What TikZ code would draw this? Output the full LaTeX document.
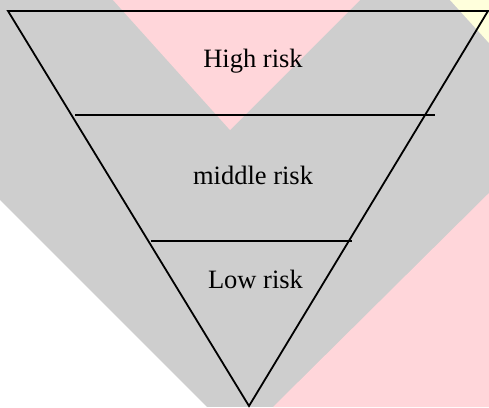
\documentclass[tikz,border=0pt]{standalone}
\usepackage{fontspec}
\setmainfont{Liberation Serif}
\definecolor{bggray}{RGB}{206,206,206}
\definecolor{bgpink}{RGB}{255,214,218}
\definecolor{bgyellow}{RGB}{255,255,220}
\begin{document}
\begin{tikzpicture}[x=1pt,y=-1pt,
  edge/.style={draw=black,line width=1.8pt,line join=miter},
  label/.style={font=\fontsize{26.5}{30}\selectfont,anchor=base,inner sep=0pt}]
  % background watermark
  \useasboundingbox (0,0) rectangle (489,407);
  \fill[bggray] (0,0) rectangle (489,407);
  \fill[white] (0,200) -- (207,407) -- (0,407) -- cycle;
  \fill[bgpink] (489,193) -- (273,407) -- (489,407) -- cycle;
  \fill[bgpink] (113,0) -- (360,0) -- (230,130) -- cycle;
  \fill[bgyellow] (450,0) -- (489,0) -- (489,43) -- cycle;
  % triangle
  \coordinate (tl) at (8,11);
  \coordinate (tr) at (488,11);
  \coordinate (bt) at (249,406);
  \coordinate (a1) at (75,115);
  \coordinate (a2) at (435,115);
  \coordinate (b1) at (151,241);
  \coordinate (b2) at (352,241);
  \draw[edge] (tl) -- (tr) -- (bt) -- cycle;
  \draw[edge] (a1) -- (a2);
  \draw[edge] (b1) -- (b2);
  \node[label] (high) at (253,67) {High risk};
  \node[label] (mid) at (253,184) {middle risk};
  \node[label] (low) at (255.5,288) {Low risk};
\end{tikzpicture}
\end{document}
